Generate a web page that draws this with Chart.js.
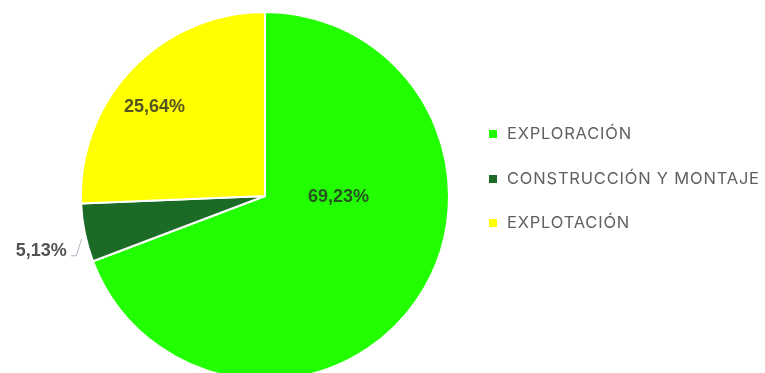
<!DOCTYPE html>
<html>
<head>
<meta charset="utf-8">
<script src="https://cdn.jsdelivr.net/npm/chart.js@4"></script>
<style>
  html, body { margin: 0; padding: 0; background: #fff; overflow: hidden; }
  #wrap { position: relative; width: 765px; height: 373px; }
  #pie { position: absolute; left: 0; top: 0; }
  #legend { position: absolute; left: 489px; top: 119px; font-family: Inter, "Open Sans", sans-serif; font-size: 16.5px; letter-spacing: 0.8px; color: #606060; }
  #legend div { height: 44.5px; line-height: 28px; white-space: nowrap; }
  #legend span.box { display: inline-block; width: 8px; height: 8px; margin-right: 10px; vertical-align: 1px; }
</style>
</head>
<body>
<div id="wrap">
  <canvas id="pie" width="765" height="400"></canvas>
  <div id="legend"></div>
</div>
<script>
// data
const categories = ['EXPLORACIÓN', 'CONSTRUCCIÓN Y MONTAJE', 'EXPLOTACIÓN'];
const counts = [27, 2, 10];
const colors = ['#22ff00', '#1b6b27', '#ffff00'];

const total = counts.reduce((a, b) => a + b, 0);
const pct = v => (v / total * 100).toFixed(2).replace('.', ',') + '%';

// legend
const legend = document.getElementById('legend');
categories.forEach((c, i) => {
    const row = document.createElement('div');
    row.innerHTML = `<span class="box" style="background:${colors[i]}"></span>${c}`;
    legend.appendChild(row);
});

// slice labels
const sliceLabels = {
    id: 'sliceLabels',
    afterDatasetsDraw(chart) {
        const ctx = chart.ctx;
        const arcs = chart.getDatasetMeta(0).data;
        ctx.save();
        ctx.font = 'bold 18px "Liberation Sans", Arial, sans-serif';
        ctx.textBaseline = 'middle';
        arcs.forEach((arc, i) => {
            const { x, y, startAngle, endAngle, outerRadius } = arc.getProps(['x', 'y', 'startAngle', 'endAngle', 'outerRadius'], true);
            const mid = (startAngle + endAngle) / 2;
            const share = counts[i] / total;
            const text = pct(counts[i]);
            ctx.fillStyle = 'rgba(40,40,40,0.8)';
            if (share < 0.1) {
                // outside label with leader
                const ex = x + Math.cos(mid) * outerRadius - 3;
                const ey = y + Math.sin(mid) * outerRadius + 6;
                ctx.strokeStyle = '#b8b0c4';
                ctx.lineWidth = 1;
                ctx.beginPath();
                ctx.moveTo(ex, ey);
                ctx.lineTo(ex - 5.5, ey + 17);
                ctx.lineTo(ex - 11, ey + 17);
                ctx.stroke();
                ctx.textAlign = 'right';
                ctx.fillText(text, ex - 15, ey + 12);
            } else if (share > 0.5) {
                ctx.textAlign = 'center';
                ctx.fillText(text, x + outerRadius * 0.4, y + 1);
            } else {
                ctx.textAlign = 'center';
                const a = mid - 0.09;
                ctx.fillText(text, x + Math.cos(a) * outerRadius * 0.77, y + Math.sin(a) * outerRadius * 0.77);
            }
        });
        ctx.restore();
    }
};

new Chart(document.getElementById('pie'), {
    type: 'pie',
    data: {
        labels: categories,
        datasets: [{
            data: counts,
            backgroundColor: colors,
            borderColor: '#ffffff',
            borderWidth: 2
        }]
    },
    options: {
        responsive: false,
        animation: false,
        layout: { padding: { left: 80, top: 11, right: 315, bottom: 19 } },
        plugins: {
            legend: { display: false },
            tooltip: { enabled: false }
        }
    },
    plugins: [sliceLabels]
});
</script>
</body>
</html>
